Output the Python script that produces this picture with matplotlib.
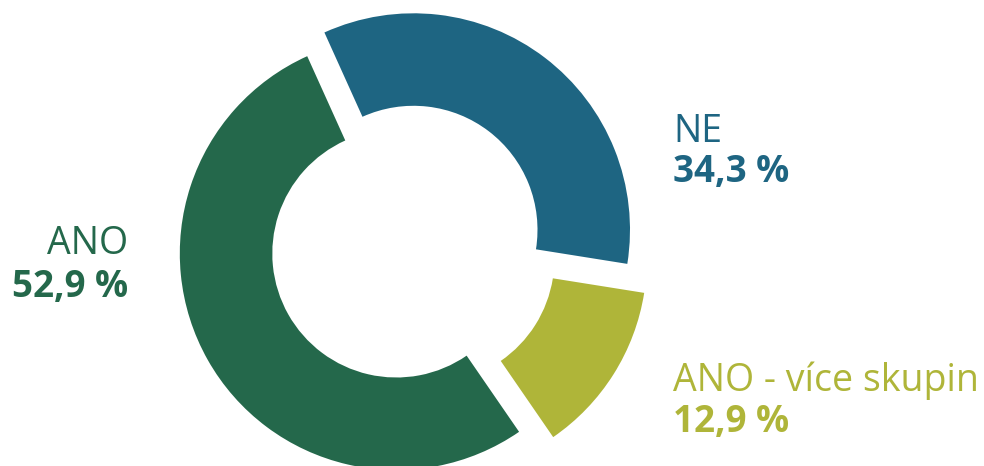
import matplotlib
matplotlib.use("Agg")
import matplotlib.pyplot as plt

# ---- data ----
categories = ["NE", "ANO - více skupin", "ANO"]
values = [34.3, 12.9, 52.9]
value_labels = ["34,3 %", "12,9 %", "52,9 %"]

# ---- style / layout ----
colors = ["#1e6582", "#afb539", "#24684b"]
W, H = 984, 466
R_OUT = 216.5
RING = 92.5
START = 114.3
# slice centres in pixel space (y measured upward)
centers = [(413.5, 236.2), (430.4, 207.2), (396.3, 212.5)]

plt.rcParams['font.family'] = ['Open Sans', 'DejaVu Sans']

fig = plt.figure(figsize=(W / 100, H / 100), dpi=100)
ax = fig.add_axes([0, 0, 1, 1])

wedges, _ = ax.pie(values, colors=colors, startangle=START, counterclock=False,
                   radius=R_OUT, center=(W / 2, H / 2),
                   wedgeprops=dict(width=RING, linewidth=0))
for w, c in zip(wedges, centers):
    w.set_center(c)

ax.set_xlim(0, W)
ax.set_ylim(0, H)
ax.set_aspect('auto')
ax.axis('off')

FS_LABEL = 27.0
FS_VALUE = 26.5
# labels: (x, label baseline, value baseline, ha)
label_pos = [(673, 323.7, 284.3, 'left'),
             (673, 75.3, 34.3, 'left'),
             (128, 212.0, 169.3, 'right')]
for cat, vl, col, (x, yl, yv, ha) in zip(categories, value_labels, colors, label_pos):
    ax.text(x, yl, cat, color=col, fontsize=FS_LABEL, ha=ha, va='baseline')
    ax.text(x, yv, vl, color=col, fontsize=FS_VALUE, fontweight='bold', ha=ha, va='baseline')

fig.savefig("out.png", dpi=100)
